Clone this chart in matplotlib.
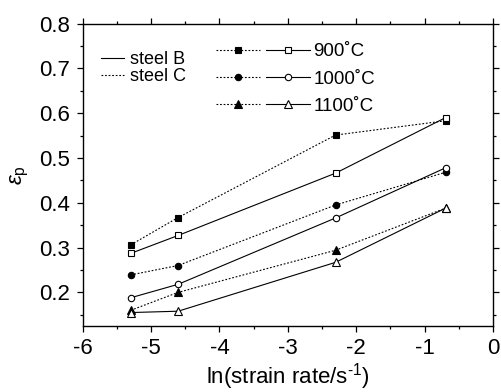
import matplotlib
matplotlib.use("Agg")
import matplotlib.pyplot as plt
from matplotlib.lines import Line2D
from matplotlib.legend_handler import HandlerTuple

plt.rcParams['font.family'] = ['Liberation Sans', 'DejaVu Sans']
plt.rcParams['mathtext.fontset'] = 'custom'
plt.rcParams['mathtext.rm'] = 'Liberation Sans'
plt.rcParams['mathtext.it'] = 'Liberation Sans:italic'
plt.rcParams['axes.unicode_minus'] = False

x = [-5.298, -4.605, -2.303, -0.693]
steelC_900 = [0.306, 0.367, 0.551, 0.583]
steelB_900 = [0.287, 0.327, 0.466, 0.590]
steelC_1000 = [0.239, 0.260, 0.395, 0.468]
steelB_1000 = [0.188, 0.218, 0.366, 0.478]
steelC_1100 = [0.160, 0.200, 0.294, 0.388]
steelB_1100 = [0.155, 0.158, 0.267, 0.388]
temps = ['900', '1000', '1100']
markers = ['s', 'o', '^']
msizes = [4.2, 4.6, 6.0]

W, H = 501, 392
fig = plt.figure(figsize=(W / 100, H / 100), dpi=100)
ax = fig.add_axes([82.7 / W, 1 - 326 / H, (493 - 82.7) / W, (326 - 23.5) / H])

dotted = (0, (1.6, 1.6))
lw = 0.8
C = [steelC_900, steelC_1000, steelC_1100]
B = [steelB_900, steelB_1000, steelB_1100]
tuples = []
for i in range(3):
    ax.plot(x, C[i], linestyle=dotted, lw=lw, color='black', marker=markers[i],
            ms=msizes[i], mfc='black', mec='black', mew=0.8)
    ax.plot(x, B[i], linestyle='-', lw=lw, color='black', marker=markers[i],
            ms=msizes[i], mfc='white', mec='black', mew=0.8)
    hc = Line2D([], [], linestyle=dotted, lw=lw, color='black', marker=markers[i],
                ms=msizes[i], mfc='black', mec='black', mew=0.8)
    hb = Line2D([], [], linestyle='-', lw=lw, color='black', marker=markers[i],
                ms=msizes[i], mfc='white', mec='black', mew=0.8)
    tuples.append((hc, hb))

ax.set_xlim(-6, 0)
ax.set_ylim(0.125, 0.8)
ax.set_xticks([-6, -5, -4, -3, -2, -1, 0])
ax.set_xticks([-5.5, -4.5, -3.5, -2.5, -1.5, -0.5], minor=True)
ax.set_yticks([0.2, 0.3, 0.4, 0.5, 0.6, 0.7, 0.8])
ax.set_yticks([0.15, 0.25, 0.35, 0.45, 0.55, 0.65, 0.75], minor=True)
ax.set_yticklabels(['0.2', '0.3', '0.4', '0.5', '0.6', '0.7', '0.8'])
ax.tick_params(which='both', direction='out', top=True, right=True,
               labelsize=16, width=0.9)
ax.tick_params(which='major', length=4, pad=5)
ax.tick_params(which='minor', length=2.5)
for s in ax.spines.values():
    s.set_linewidth(1.0)

ax.set_xlabel(r'ln(strain rate/s$^{\text{-1}}$)', fontsize=16, labelpad=1)
ax.set_ylabel(r'$\varepsilon_\mathrm{p}$', fontsize=16, labelpad=6)

leg1 = ax.legend([Line2D([], [], color='black', lw=lw),
                  Line2D([], [], color='black', lw=lw, linestyle=dotted)],
                 ['steel B', 'steel C'], loc='upper left', frameon=False,
                 fontsize=13, handlelength=1.25, handletextpad=0.35,
                 labelspacing=0.0, borderaxespad=0.0, borderpad=0.0,
                 bbox_to_anchor=(101 / W, 1 - 51 / H),
                 bbox_transform=fig.transFigure)
ax.add_artist(leg1)
ax.legend(tuples, [t + '\u02daC' for t in temps], loc='upper left',
          frameon=False, fontsize=13.5, handlelength=5.0, handletextpad=0.2,
          labelspacing=0.55, borderaxespad=0.0, borderpad=0.0,
          bbox_to_anchor=(216 / W, 1 - 43 / H), bbox_transform=fig.transFigure,
          handler_map={tuple: HandlerTuple(ndivide=None, pad=0.3)})

fig.savefig('out.png', dpi=100)
